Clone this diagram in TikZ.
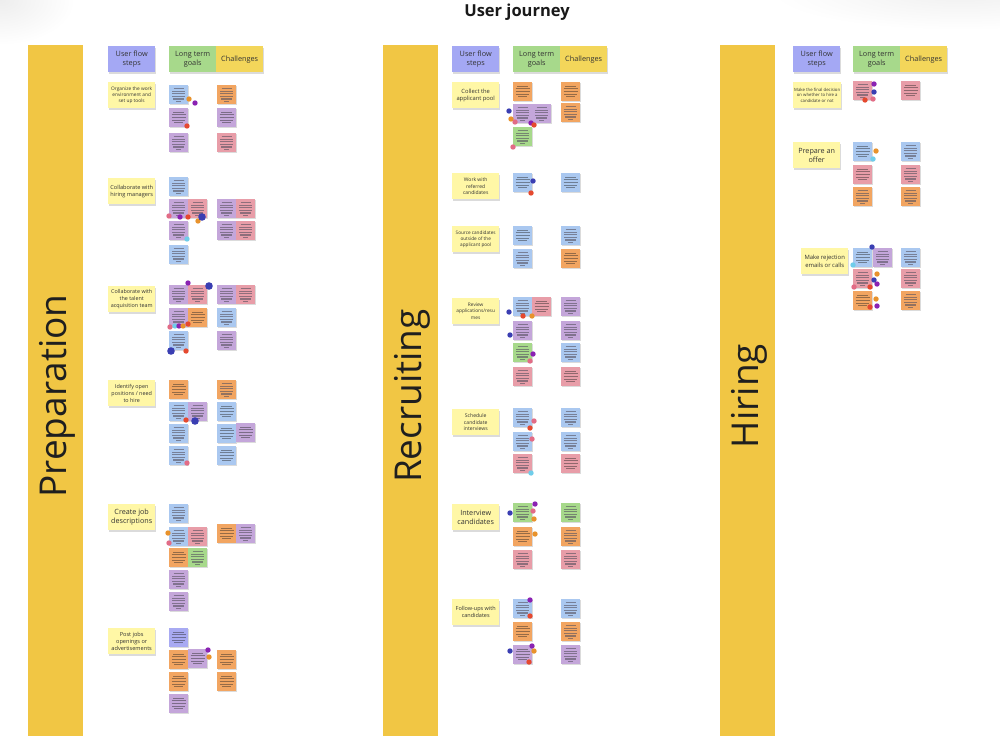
\documentclass[tikz,border=0pt]{standalone}
\usepackage{fontspec}
\setmainfont{Open Sans}
\definecolor{barY}{HTML}{F1C644}
\definecolor{stepY}{HTML}{FFF7A6}
\definecolor{hdrP}{HTML}{A4A8F4}
\definecolor{hdrG}{HTML}{A7D98B}
\definecolor{hdrY}{HTML}{F3D65A}
\definecolor{nblue}{HTML}{AAC8F0}
\definecolor{npurple}{HTML}{C4A6DA}
\definecolor{nred}{HTML}{E89DA8}
\definecolor{norange}{HTML}{F2A561}
\definecolor{ngreen}{HTML}{A7D98B}
\definecolor{nperi}{HTML}{A8AAF2}
\definecolor{dpurple}{HTML}{8A22B2}
\definecolor{dorange}{HTML}{E8922C}
\definecolor{dred}{HTML}{E5492F}
\definecolor{dpink}{HTML}{E26C86}
\definecolor{dblue}{HTML}{3A3EB2}
\definecolor{dcyan}{HTML}{6FCDEA}
\definecolor{lineg}{HTML}{55505E}
\tikzset{
  shadowed/.style={preaction={fill=black!14, transform canvas={xshift=0.7pt, yshift=-1.6pt}}},
  stepnote/.style={shadowed, fill=stepY, anchor=north west, minimum width=47pt, minimum height=26pt, align=center, inner sep=1pt, text=black!80},
  hdrnote/.style={shadowed, anchor=north west, minimum height=26pt, align=center, inner sep=1pt, text=black!80, font=\fontsize{7.3}{9}\selectfont},
  notelines/.style={draw=lineg, line width=1.05pt, opacity=0.6},
  notetext/.style={draw=black!85, line width=0.55pt, opacity=0.45},
  phase/.style={rotate=90, font=\fontsize{37}{40}\selectfont, text=black!88}
}
\newcommand\notebg[3]{%
  \fill[black!14] (#1+0.6,#2+1.3) rectangle (#1+19.6,#2+20.3);
  \fill[#3] (#1,#2) rectangle (#1+19,#2+19);}
\newcommand\notel[3]{\notebg{#1}{#2}{#3}%
  \draw[notelines] (#1+4.5,#2+3.6) -- (#1+14.5,#2+3.6) (#1+3,#2+6.2) -- (#1+16,#2+6.2)
    (#1+3,#2+8.8) -- (#1+16,#2+8.8) (#1+3,#2+11.4) -- (#1+16,#2+11.4) (#1+4,#2+14) -- (#1+15,#2+14)
    (#1+7,#2+16.2) -- (#1+12,#2+16.2);}
\newcommand\notet[3]{\notebg{#1}{#2}{#3}%
  \draw[notetext] (#1+4,#2+4) -- (#1+15,#2+4) (#1+2.5,#2+6.6) -- (#1+16.5,#2+6.6)
    (#1+2.5,#2+9.2) -- (#1+16.5,#2+9.2) (#1+3,#2+11.8) -- (#1+16,#2+11.8) (#1+5,#2+14.4) -- (#1+14,#2+14.4);}
\newcommand\pin[3]{\fill[#3] (#1,#2) circle (2.7pt);}
\newcommand\bigpin[3]{\fill[#3] (#1,#2) circle (3.8pt);}
\newcommand\hdrs[3]{%
  \node[hdrnote, fill=hdrP, minimum width=47pt] (ufs#1) at (#2,46) {User flow\\steps};
  \node[hdrnote, fill=hdrG, minimum width=47pt] (ltg#1) at (#3,46) {Long term\\goals};
  \node[hdrnote, fill=hdrY, minimum width=47pt] (ch#1) at (#3+47,46) {Challenges};}
\begin{document}
\begin{tikzpicture}[x=1pt,y=-1pt]
\useasboundingbox[fill=white] (0,0) rectangle (1000,736);
% faint corner shading
\shade[inner color=black!7, outer color=white] (0,0) ellipse (75pt and 45pt);
\shade[inner color=black!6, outer color=white] (960,-8) ellipse (190pt and 38pt);
% title
\node[font=\bfseries\fontsize{16.5}{20}\selectfont, text=black!90] (title) at (517,12) {User journey};
% phase bars
\fill[barY] (28,45) rectangle (83,736);
\fill[barY] (383,45) rectangle (438,736);
\fill[barY] (720,45) rectangle (775,736);
\node[phase] (prep) at (57,396) {Preparation};
\node[phase] (recr) at (412,396) {Recruiting};
\node[phase] (hire) at (749,396) {Hiring};
% headers
\hdrs{A}{108}{169}
\hdrs{B}{452}{513}
\hdrs{C}{793}{853}
% ---------- Preparation steps
\node[stepnote, font=\fontsize{4.8}{6.1}\selectfont] (p1) at (108,82) {Organize the work\\environment and\\set up tools};
\node[stepnote, font=\fontsize{5.6}{7.2}\selectfont] (p2) at (108,178) {Collaborate with\\hiring managers};
\node[stepnote, font=\fontsize{5.4}{6.8}\selectfont] (p3) at (108,286) {Collaborate with\\the talent\\acquisition team};
\node[stepnote, font=\fontsize{5.4}{6.8}\selectfont] (p4) at (108,380) {Identify open\\positions / need\\to hire};
\node[stepnote, font=\fontsize{7.2}{9}\selectfont] (p5) at (108,504) {Create job\\descriptions};
\node[stepnote, font=\fontsize{5.6}{7}\selectfont] (p6) at (108,628) {Post jobs\\openings or\\advertisements};
% section 1
\notel{169}{85}{nblue} \pin{189}{99}{dorange} \pin{195}{103}{dpurple}
\notet{169}{108}{npurple} \pin{187}{126}{dred}
\notel{169}{133}{npurple}
\notel{217}{85}{norange} \notet{217}{108}{npurple} \notel{217}{133}{nred}
% section 2
\notel{169}{177}{nblue}
\notel{169}{199}{npurple} \notel{188}{199}{nred}
\notel{169}{221}{npurple} \pin{187}{239}{dcyan}
\pin{169}{216}{dpink} \pin{180}{217}{dpurple} \pin{188}{217}{dred} \pin{198}{221}{dorange} \bigpin{202}{217}{dblue}
\notel{169}{245}{nblue}
\notel{217}{199}{npurple} \notel{236}{199}{nred} \notel{217}{221}{npurple} \notel{236}{221}{nred}
% section 3
\notel{169}{285}{npurple} \notel{188}{285}{nred} \pin{188}{283}{dpurple} \bigpin{209}{286}{dblue}
\notel{169}{308}{npurple} \notet{188}{308}{norange}
\notel{169}{331}{nblue}
\pin{170}{327}{dpink} \pin{175}{326}{dcyan} \pin{179}{326}{dpurple} \pin{183}{326}{dorange} \pin{188}{324}{dred}
\bigpin{171}{351}{dblue} \pin{186}{351}{dred}
\notel{217}{285}{npurple} \notel{236}{285}{nred} \notel{217}{308}{nblue} \notel{217}{331}{npurple}
% section 4
\notet{169}{380}{norange}
\notel{169}{402}{nblue} \notel{188}{402}{npurple}
\notel{169}{424}{nblue} \pin{186}{420}{dred} \bigpin{195}{421}{dblue}
\notel{169}{446}{nblue} \pin{187}{463}{dpink}
\notel{217}{380}{norange} \notet{217}{402}{nblue} \notet{217}{424}{nblue} \notet{236}{423}{npurple} \notet{217}{446}{nblue}
% section 5
\notel{169}{504}{nblue}
\notel{169}{527}{nblue} \notel{188}{527}{nred} \pin{168}{533}{dorange} \pin{169}{543}{dpink}
\notet{169}{548}{norange} \notel{188}{548}{ngreen}
\notel{169}{570}{npurple}
\notel{169}{592}{npurple}
\notet{217}{524}{norange} \notel{236}{524}{npurple}
% section 6
\notet{169}{628}{nperi}
\notet{169}{650}{norange} \notet{188}{649}{npurple} \pin{208}{650}{dpurple} \pin{209}{657}{dorange}
\notet{169}{672}{norange}
\notet{169}{694}{npurple}
\notet{217}{650}{norange} \notet{217}{672}{norange}
% ---------- Recruiting steps
\node[stepnote, font=\fontsize{5.8}{7.4}\selectfont] (r1) at (452,82) {Collect the\\applicant pool};
\node[stepnote, font=\fontsize{5}{6.5}\selectfont] (r2) at (452,173) {Work with\\referred\\candidates};
\node[stepnote, font=\fontsize{4.7}{6.1}\selectfont] (r3) at (452,226) {Source candidates\\outside of the\\applicant pool};
\node[stepnote, font=\fontsize{4.8}{6.3}\selectfont] (r4) at (452,298) {Review\\applications/resu\\mes};
\node[stepnote, font=\fontsize{5.1}{6.6}\selectfont] (r5) at (452,409) {Schedule\\candidate\\interviews};
\node[stepnote, font=\fontsize{7.2}{9}\selectfont] (r6) at (452,504) {Interview\\candidates};
\node[stepnote, font=\fontsize{5.5}{7.1}\selectfont] (r7) at (452,599) {Follow-ups with\\candidates};
% section 1
\notet{513}{82}{norange}
\notel{513}{104}{npurple} \notel{532}{104}{npurple}
\pin{509}{111}{dblue} \pin{511}{119}{dorange} \pin{515}{122}{dpink} \pin{531}{123}{dpurple} \pin{534}{125}{dred}
\notel{513}{127}{ngreen} \pin{513}{147}{dpink}
\notet{561}{82}{norange} \notel{561}{103}{norange}
% section 2
\notet{513}{173}{nblue} \pin{533}{181}{dblue} \pin{531}{193}{dred}
\notet{561}{173}{nblue}
% section 3
\notet{513}{226}{nblue} \notel{513}{249}{nblue}
\notel{561}{226}{nblue} \notet{561}{249}{norange}
% section 4
\notel{513}{297}{nblue} \notet{532}{297}{nred}
\pin{509}{312}{dblue} \pin{523}{316}{dred} \pin{532}{316}{dorange}
\notel{513}{321}{npurple} \pin{510}{335}{dblue}
\notel{513}{343}{ngreen} \pin{533}{354}{dpurple} \pin{530}{361}{dpink}
\notel{513}{367}{nred}
\notel{561}{297}{npurple} \notel{561}{321}{npurple} \notel{561}{343}{nblue} \notet{561}{367}{nred}
% section 5
\notel{513}{408}{nblue} \pin{534}{421}{dpink} \pin{530}{428}{dred}
\notel{513}{432}{nblue} \pin{532}{439}{dpink}
\notel{513}{454}{nred} \pin{531}{473}{dcyan}
\notel{561}{408}{nblue} \notel{561}{432}{nblue} \notet{561}{454}{nred}
% section 6
\notel{513}{503}{ngreen} \pin{535}{504}{dpurple} \pin{533}{511}{dpink} \pin{534}{519}{dorange} \pin{510}{513}{dblue}
\notet{513}{527}{norange} \pin{535}{534}{dorange}
\notel{513}{550}{nred}
\notel{561}{503}{ngreen} \notel{561}{527}{norange} \notel{561}{550}{nred}
% section 7
\notel{513}{599}{nblue} \pin{530}{600}{dpurple} \pin{530}{616}{dred}
\notet{513}{622}{norange}
\notet{513}{645}{npurple} \pin{532}{646}{dpurple} \pin{510}{651}{dblue} \pin{534}{651}{dorange} \pin{529}{662}{dred}
\notel{561}{599}{nblue} \notel{561}{622}{norange} \notel{561}{645}{npurple}
% ---------- Hiring steps
\node[stepnote, font=\fontsize{4.3}{5.7}\selectfont] (h1) at (793,82) {Make the final decision\\on whether to hire a\\candidate or not};
\node[stepnote, font=\fontsize{7.2}{9}\selectfont] (h2) at (793,142) {Prepare an\\offer};
\node[stepnote, font=\fontsize{5.9}{7.5}\selectfont] (h3) at (801,248) {Make rejection\\emails or calls};
% section 1
\notel{853}{81}{nred} \pin{874}{84}{dpurple} \pin{874}{92}{dblue} \pin{873}{99}{dpink} \pin{865}{100}{dred}
\notet{901}{81}{nred}
% section 2
\notet{853}{142}{nblue} \pin{876}{151}{dorange} \pin{873}{159}{dcyan}
\notet{853}{165}{nred}
\notel{853}{187}{norange}
\notel{901}{142}{nblue} \notel{901}{165}{nred} \notel{901}{187}{norange}
% section 3
\notet{853}{248}{nblue} \notel{873}{248}{npurple} \pin{872}{247}{dblue} \pin{853}{265}{dcyan}
\notel{853}{269}{nred}
\notet{853}{291}{norange}
\pin{877}{274}{dorange} \pin{874}{280}{dblue} \pin{877}{284}{dpurple} \pin{854}{287}{dpink} \pin{870}{287}{dred}
\pin{876}{299}{dorange} \pin{877}{306}{dpurple} \pin{870}{307}{dred}
\notel{901}{248}{nblue} \notel{901}{269}{nred} \notel{901}{291}{norange}
\end{tikzpicture}
\end{document}
